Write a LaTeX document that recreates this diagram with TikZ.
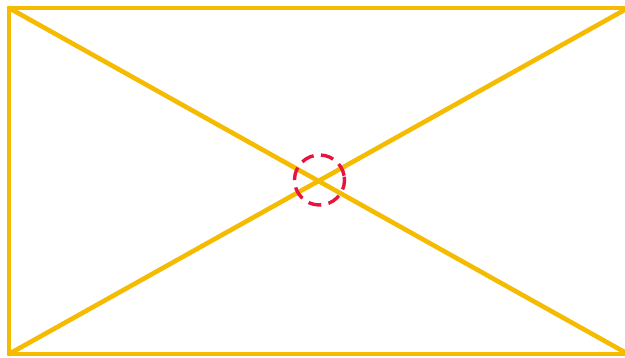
\documentclass[tikz,border=0pt]{standalone}
\definecolor{frameyellow}{HTML}{F5BB00}
\definecolor{markred}{HTML}{E8143F}
\begin{document}
\begin{tikzpicture}[x=1pt,y=-1pt,
  frame/.style={draw=frameyellow,line width=4.6pt,line cap=round,line join=round},
  marker/.style={circle,draw=markred,line width=3.4pt,dash pattern=on 13pt off 7.4pt,minimum size=50pt,inner sep=0pt}]
\useasboundingbox (0,0) rectangle (625,358);
\coordinate (tl) at (9,8);
\coordinate (tr) at (628,8);
\coordinate (br) at (628,354);
\coordinate (bl) at (9,354);
\draw[frame] (tl) -- (tr) -- (br) -- (bl) -- cycle;
\draw[frame] (tl) -- (br);
\draw[frame] (bl) -- (tr);
\node[marker,rotate=10] (c) at (319.5,180) {};
\end{tikzpicture}
\end{document}
